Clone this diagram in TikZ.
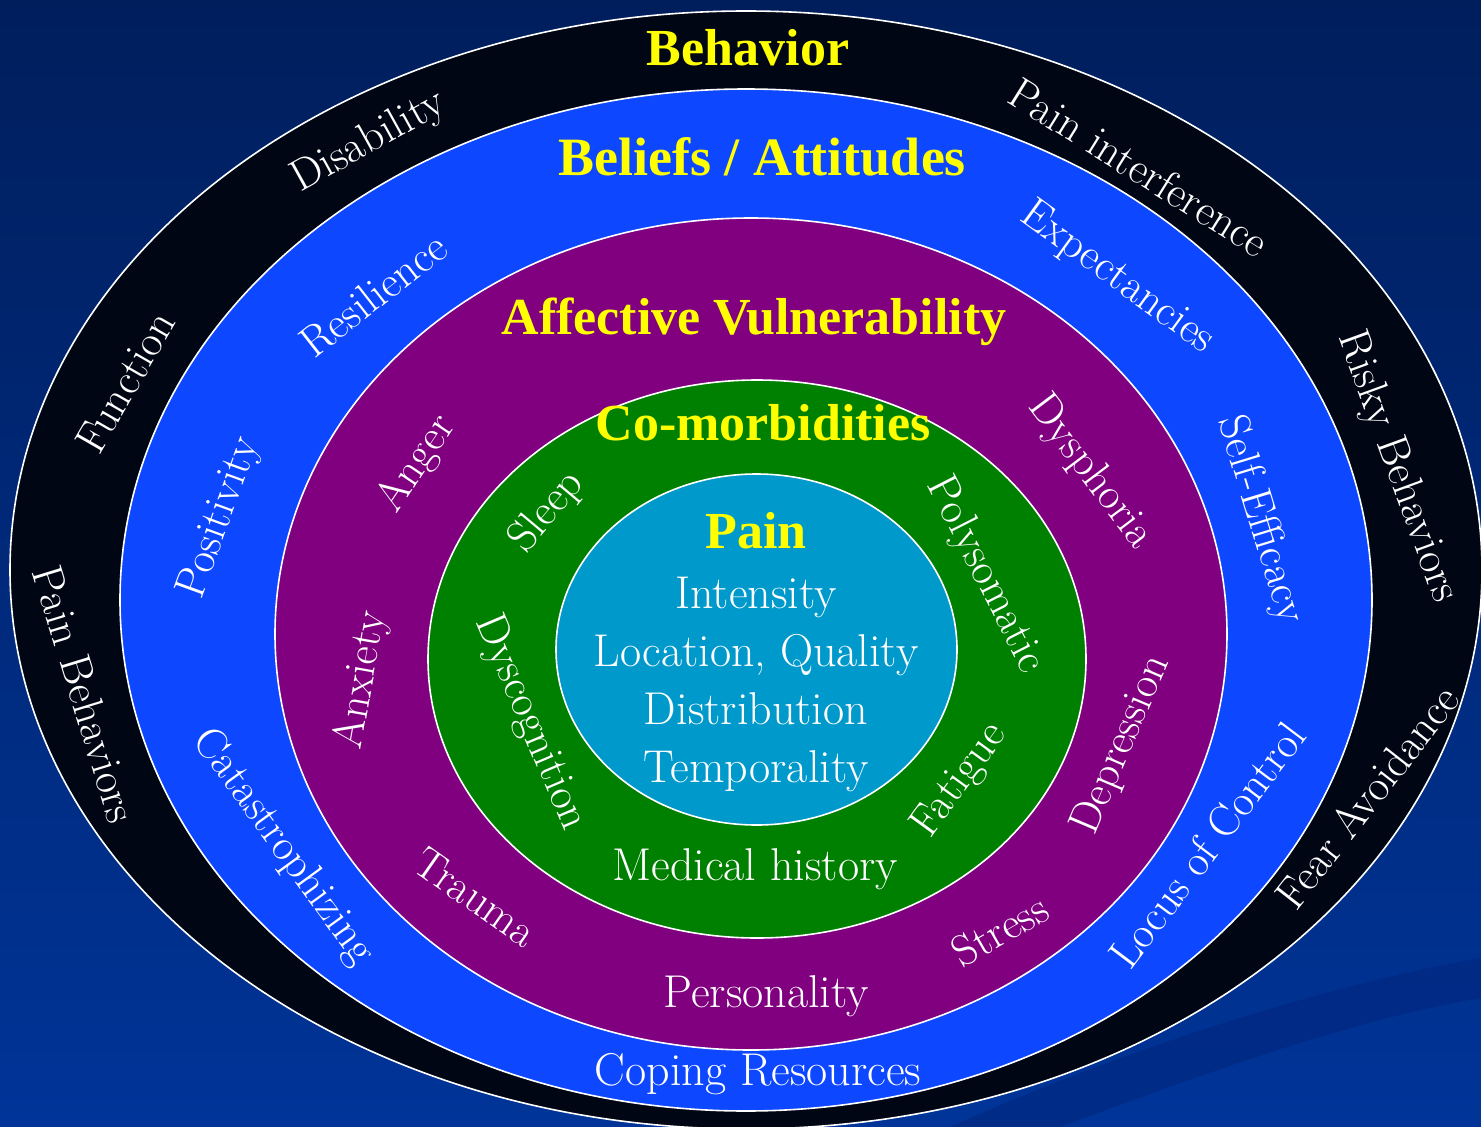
\documentclass[tikz,border=0pt]{standalone}
\usepackage{fontspec}
\newfontfamily\headfont{Liberation Serif}

\definecolor{bgtop}{RGB}{0,30,92}
\definecolor{bgmid}{RGB}{0,48,140}
\definecolor{bgbottom}{RGB}{0,52,152}
\definecolor{bgband}{RGB}{0,40,128}
\definecolor{ringblack}{RGB}{0,6,20}
\definecolor{ringblue}{RGB}{13,71,255}
\definecolor{ringpurple}{RGB}{128,0,128}
\definecolor{ringgreen}{RGB}{0,128,0}
\definecolor{paincyan}{RGB}{0,153,204}
\definecolor{headyellow}{RGB}{255,255,0}

\tikzset{
  ring/.style={draw=white, line width=1.6pt},
  head/.style={text=headyellow, inner sep=0pt,
    font=\headfont\bfseries\fontsize{52}{60}\selectfont},
  item/.style={text=white, inner sep=0pt,
    font=\fontsize{44}{52}\selectfont},
  flat/.style={item, font=\fontsize{46}{58}\selectfont},
}

\begin{document}
\begin{tikzpicture}[x=1pt, y=-1pt]
    \useasboundingbox (0,0) rectangle (1481,1127);
    % Backdrop
    \shade[top color=bgtop, middle color=bgmid, bottom color=bgbottom]
        (0,0) rectangle (1481,1127);
    \fill[bgband, opacity=0.7] (1481,958) .. controls (1300,990) and (1100,1060) .. (950,1127)
        -- (1060,1127) .. controls (1200,1075) and (1350,1020) .. (1481,998) -- cycle;
    % Rings, outside in
    \draw[ring, fill=ringblack] (746,570) ellipse [x radius=736pt, y radius=559pt];
    \draw[ring, fill=ringblue] (746,600) ellipse [x radius=626pt, y radius=511pt];
    \draw[ring, fill=ringpurple] (751,634) ellipse [x radius=476pt, y radius=416pt];
    \draw[ring, fill=ringgreen] (757,659) ellipse [x radius=329pt, y radius=279pt];
    \draw[ring, fill=paincyan] (756.5,649.5) ellipse [x radius=200.5pt, y radius=175.5pt];

    % Behavior ring
    \node[head] (behavior) at (748,48) {Behavior};
    \node[item, rotate=29] (disability) at (369,142) {Disability};
    \node[item, rotate=-32] (interference) at (1139,167) {Pain interference};
    \node[item, rotate=60] (function) at (125,382) {Function};
    \node[item, rotate=-73] (painbeh) at (85,694) {Pain Behaviors};
    \node[item, rotate=-70] (risky) at (1397,467) {Risky Behaviors};
    \node[item, rotate=52] (fear) at (1367,797) {Fear Avoidance};

    % Beliefs ring
    \node[head, font=\headfont\bfseries\fontsize{54}{60}\selectfont] (beliefs) at (762,157) {Beliefs / Attitudes};
    \node[item, rotate=38] (resilience) at (373,295) {Resilience};
    \node[item, rotate=-36] (expect) at (1117,278) {Expectancies};
    \node[item, rotate=70] (positivity) at (220,518) {Positivity};
    \node[item, rotate=-73] (selfeff) at (1260,520) {Self-Efficacy};
    \node[item, rotate=-54] (catastr) at (283,847) {Catastrophizing};
    \node[item, rotate=53] (locus) at (1207,845) {Locus of Control};
    \node[flat] (coping) at (758,1074) {Coping Resources};

    % Affective ring
    \node[head] (affective) at (754,322) {Affective Vulnerability};
    \node[item, rotate=56] (anger) at (417,464) {Anger};
    \node[item, rotate=-53] (dysphoria) at (1090,472) {Dysphoria};
    \node[item, rotate=80] (anxiety) at (362,680) {Anxiety};
    \node[item, rotate=67] (depression) at (1122,745) {Depression};
    \node[item, rotate=-35] (trauma) at (476,897) {Trauma};
    \node[item, rotate=30] (stress) at (1000,930) {Stress};
    \node[flat] (personality) at (766,996) {Personality};

    % Co-morbidity ring
    \node[head] (comorb) at (763,423) {Co-morbidities};
    \node[item, rotate=50] (sleep) at (547,512) {Sleep};
    \node[item, rotate=-63] (polysom) at (985,575) {Polysomatic};
    \node[item, rotate=-67] (dyscog) at (530,723) {Dyscognition};
    \node[item, rotate=54] (fatigue) at (960,781) {Fatigue};
    \node[flat] (medical) at (755,869) {Medical history};

    % Pain core
    \node[head] (pain) at (756,531) {Pain};
    \node[flat, align=center] (painlist) at (756,684)
        {Intensity\\Location, Quality\\Distribution\\Temporality};
\end{tikzpicture}
\end{document}
